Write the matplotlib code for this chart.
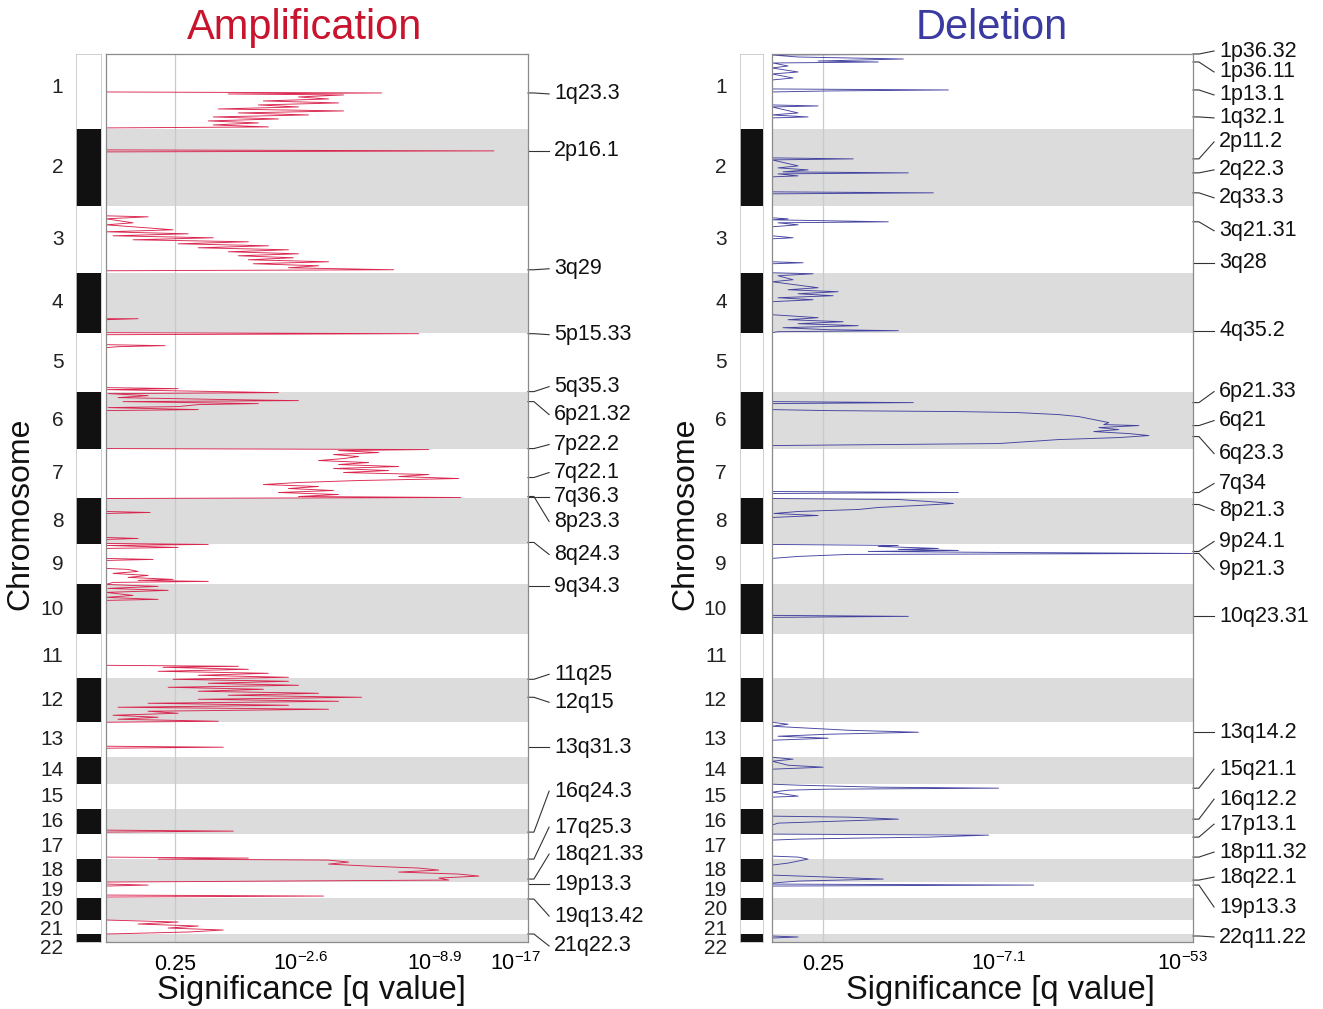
import matplotlib
matplotlib.use('Agg')
import matplotlib.pyplot as plt
import numpy as np

plt.rcParams['font.family'] = ['Liberation Sans', 'DejaVu Sans']
plt.rcParams['mathtext.fontset'] = 'custom'
plt.rcParams['mathtext.rm'] = 'Liberation Sans'
plt.rcParams['mathtext.it'] = 'Liberation Sans:italic'
plt.rcParams['mathtext.default'] = 'regular'

# chromosome extents along the genome axis (marker index units, as drawn)
chrom_size = [75, 77, 67, 60, 59, 57, 50, 46, 40, 50, 44,
              44, 35, 27, 25, 25, 25, 23, 16, 22, 14, 8]
chrom_names = [str(i) for i in range(1, 23)]

# amplification G-score profile (genome position, score)
amp_pos = [0, 38, 39, 40, 41, 43, 45, 47, 49, 51, 53, 55, 57, 59, 61, 63, 65, 67, 69, 71, 73, 74,
           96, 97, 98,
           162, 163, 165, 169, 171, 176, 178, 180, 182, 184, 186, 188, 190, 192, 194, 196, 198,
           200, 202, 204, 206, 208, 210, 212, 214, 216, 217,
           265, 265, 266,
           279, 280, 281, 291, 292, 293, 294, 334, 335, 336,
           339, 340, 342, 344, 346, 347, 348, 350, 351, 353, 354, 356, 357, 395,
           396, 397, 399, 401, 403, 405, 407, 409, 411, 413, 415, 417, 419, 421, 423, 425, 427,
           429, 431, 433, 435, 437, 439, 441, 443, 444, 445,
           458, 459, 460, 484, 485, 486,
           490, 491, 492, 494, 495, 505, 506, 507, 515, 516, 518, 520, 522, 524, 526, 527, 528, 529, 531,
           533, 535, 537, 539, 542, 544, 546, 547,
           612, 613, 614, 616, 618, 620, 622, 624,
           626, 628, 630, 632, 634, 636, 638, 640, 642, 644, 646, 648, 650, 652, 654, 656, 658,
           660, 662, 664, 666, 668, 669,
           693, 694, 695,
           777, 778, 779,
           804, 805, 806, 807, 809, 811, 813, 815, 817, 819, 821, 823, 825, 827, 829,
           831, 832, 833, 842, 843, 844,
           867, 869, 871, 873, 875, 877, 879, 881, 889]
amp_g = [2, 2, 277, 124, 239, 194, 224, 159, 234, 154, 194, 114, 239, 134, 204, 109, 174, 104, 154, 109, 164, 2,
         2, 389, 2,
         2, 44, 2, 29, 2, 69, 2, 84, 9, 109, 29, 144, 74, 164, 94, 184, 124,
         194, 134, 189, 144, 224, 149, 214, 184, 289, 2,
         2, 34, 2,
         2, 314, 2, 2, 61, 14, 2, 2, 74, 2,
         174, 4, 44, 14, 124, 194, 19, 154, 94, 74, 4, 94, 2, 2,
         324, 234, 274, 229, 254, 239, 214, 264, 234, 294, 229, 284, 239, 324, 294, 354, 254,
         194, 159, 214, 184, 229, 174, 234, 194, 356, 2,
         2, 46, 2, 2, 34, 2,
         2, 104, 2, 74, 2, 2, 49, 2, 2, 24, 34, 9, 44, 24, 69, 34, 104, 9, 2,
         54, 4, 64, 2, 29, 2, 54, 2,
         2, 134, 59, 144, 54, 164, 94, 184,
         69, 184, 104, 194, 64, 159, 94, 214, 124, 257, 94, 234, 44, 184, 14, 224, 44,
         74, 9, 54, 14, 114, 2,
         2, 119, 2,
         2, 129, 2,
         2, 144, 54, 224, 244, 224, 264, 314, 334, 294, 354, 374, 334, 344, 2,
         2, 44, 2, 2, 219, 2,
         2, 74, 34, 94, 64, 119, 84, 2, 2]

# deletion G-score profile
del_pos = [0, 1, 3, 5, 7, 8, 9, 12, 14, 18, 20, 24, 26, 35, 36, 37, 38, 51, 52, 53, 59, 61, 63, 64,
           104, 105, 106, 112, 114, 116, 118, 119, 120, 122, 123, 138, 139, 140,
           164, 165, 166, 168, 169, 171, 173, 182, 184, 185, 208, 209, 210,
           219, 220, 222, 226, 228, 234, 236, 238, 240, 242, 244, 246, 248, 261, 264, 266, 268,
           270, 272, 274, 276, 277, 278, 279,
           348, 349, 350, 356, 357, 358, 359, 361, 363, 365, 367, 369, 371, 372, 374, 376, 378,
           380, 382, 384, 386, 388, 390, 392,
           438, 439, 440,
           445, 446, 448, 450, 452, 454, 456, 458, 460, 462, 464,
           491, 492, 493, 495, 496, 497, 498, 499, 500, 501, 503, 505,
           562, 563, 564,
           669, 671, 673, 677, 679, 681, 683, 685, 687,
           704, 706, 708, 712, 714, 716,
           731, 732, 734, 735, 736, 737, 739, 743, 744,
           763, 764, 766, 768, 770, 772,
           781, 782, 783, 784, 785, 786, 787,
           803, 804, 806, 808, 810, 812, 822, 824, 826, 828, 830, 831, 832, 833,
           883, 884, 885, 889]
del_g = [213, 2, 28, 133, 48, 108, 3, 18, 2, 28, 2, 23, 2, 2, 178, 58, 2, 2, 48, 2, 28, 2, 38, 2,
         2, 83, 2, 28, 8, 38, 13, 138, 8, 28, 2, 2, 163, 2,
         2, 18, 2, 118, 8, 28, 2, 2, 23, 2, 2, 33, 2,
         2, 43, 8, 23, 2, 48, 18, 68, 28, 63, 8, 43, 2, 2, 48, 18, 73,
         28, 88, 13, 58, 128, 8, 2,
         2, 143, 2, 2, 58, 188, 248, 288, 308, 318, 328, 338, 333, 368, 328, 348, 323,
         358, 378, 348, 288, 258, 228, 2,
         2, 188, 2,
         2, 128, 158, 183, 148, 108, 88, 28, 4, 48, 2,
         2, 128, 108, 168, 128, 188, 98, 228, 421, 78, 28, 2,
         2, 138, 2,
         2, 18, 2, 78, 148, 58, 8, 58, 2,
         2, 23, 2, 18, 53, 2,
         2, 28, 108, 228, 58, 18, 2, 28, 2,
         2, 78, 128, 68, 8, 2,
         2, 218, 188, 158, 88, 28, 2,
         2, 28, 38, 28, 18, 2, 2, 58, 113, 28, 2, 2, 263, 2,
         2, 28, 2, 2]

# significance axis ticks (G-score position, q-value label)
amp_ticks = [71, 196, 330, 410]
amp_ticklabels = ['0.25', '10$^{-2.6}$', '10$^{-8.9}$', '10$^{-17}$']
del_ticks = [53, 228, 411]
del_ticklabels = ['0.25', '10$^{-7.1}$', '10$^{-53}$']

# peak cytobands: name, genome position of the peak, label position
amp_peaks = ['1q23.3', '2p16.1', '3q29', '5p15.33', '5q35.3', '6p21.32', '7p22.2', '7q22.1',
             '7q36.3', '8p23.3', '8q24.3', '9q34.3', '11q25', '12q15', '13q31.3', '16q24.3',
             '17q25.3', '18q21.33', '19p13.3', '19q13.42', '21q22.3']
amp_peak_pos = [39, 97, 216, 280, 338, 348, 395, 424, 443, 443, 489, 533, 626, 644, 694, 779,
                806, 826, 831, 846, 881]
amp_label_pos = [40, 97, 215, 281, 333, 361, 391, 419, 443, 468, 501, 533, 621, 649, 694, 738,
                 774, 801, 831, 863, 893]

del_peaks = ['1p36.32', '1p36.11', '1p13.1', '1q32.1', '2p11.2', '2q22.3', '2q33.3', '3q21.31',
             '3q28', '4q35.2', '6p21.33', '6q21', '6q23.3', '7q34', '8p21.3', '9p24.1', '9p21.3',
             '10q23.31', '13q14.2', '15q21.1', '16q12.2', '17p13.1', '18p11.32', '18q22.1',
             '19p13.3', '22q11.22']
del_peak_pos = [0, 8, 36, 63, 105, 119, 139, 168, 209, 277, 349, 372, 383, 439, 451, 498, 500,
                563, 679, 735, 766, 784, 804, 827, 832, 883]
del_label_pos = [-3, 18, 41, 64, 88, 116, 144, 177, 209, 277, 338, 367, 400, 430, 457, 488, 516,
                 563, 679, 716, 746, 771, 799, 824, 854, 884]

W, H = 1323, 1009
fig = plt.figure(figsize=(W / 100, H / 100), dpi=100)

bounds = np.concatenate([[0], np.cumsum(chrom_size)])
total = bounds[-1]
mids = (bounds[:-1] + bounds[1:]) / 2
# spread chromosome number labels so that small chromosomes don't collide
lab_y = [mids[0] - 4]
for m in mids[1:]:
    lab_y.append(max(m, lab_y[-1] + 19.5))


def panel(x_strip, w_strip, x_main, w_main, pos, g, color, ticks, ticklabels,
          peaks, peak_pos, label_pos, title, title_color, title_x, xlab_x, ylab_x, chrlab_dx):
    bottom = (H - 942) / H
    height = 888 / H
    ax = fig.add_axes([x_main / W, bottom, w_main / W, height])
    st = fig.add_axes([x_strip / W, bottom, w_strip / W, height])

    for i in range(len(chrom_size)):
        if i % 2 == 1:
            ax.axhspan(bounds[i], bounds[i + 1], color='#dcdcdc', lw=0, zorder=0)
            st.axhspan(bounds[i], bounds[i + 1], color='#111111', lw=0)
    ax.axvline(ticks[0], color='#c2cfc8', lw=0.9, zorder=1)
    ax.plot(g, pos, color=color, lw=0.65, alpha=0.95, zorder=2)

    # baseline score (2) sits on the left frame
    ax.set_xlim(2, w_main + 1)
    ax.set_ylim(total, 0)
    ax.set_xticks([])
    ax.set_yticks([])
    for s in ax.spines.values():
        s.set_color('#8a8a8a')
        s.set_linewidth(0.9)

    st.set_xlim(0, 1)
    st.set_ylim(total, 0)
    st.set_xticks([])
    st.set_yticks([])
    for s in st.spines.values():
        s.set_color('#c8c8c8')
        s.set_linewidth(0.6)

    # q-value tick labels, baseline aligned
    xt = ax.get_xaxis_transform()
    for t, lab in zip(ticks, ticklabels):
        ax.text(t, -28 / 888, lab, transform=xt, ha='center', va='baseline',
                fontsize=15.5, clip_on=False)

    # chromosome numbers
    yt = st.get_yaxis_transform()
    for name, y in zip(chrom_names, lab_y):
        st.text(chrlab_dx, y, name, transform=yt, ha='right', va='center',
                fontsize=15, color='#222222', clip_on=False)

    # peak labels with leader lines
    pt = ax.get_yaxis_transform()
    for name, p, lp in zip(peaks, peak_pos, label_pos):
        ax.plot([1.0, 1.014, 1.05], [p, p, lp], transform=pt, color='#333333',
                lw=0.8, clip_on=False)
        ax.text(1.062, lp, name, transform=pt, ha='left', va='center',
                fontsize=15.5, color='#111111', clip_on=False)

    fig.text(title_x / W, 1 - 28 / H, title, ha='center', va='center',
             fontsize=30, color=title_color)
    fig.text(xlab_x / W, 1 - 990 / H, 'Significance [q value]', ha='center',
             va='center', fontsize=23.5, color='#111111')
    fig.text(ylab_x / W, 1 - 514 / H, 'Chromosome', ha='center', va='center',
             rotation=90, fontsize=23, color='#111111')


panel(76, 25, 106, 422, amp_pos, amp_g, '#d81b46', amp_ticks, amp_ticklabels,
      amp_peaks, amp_peak_pos, amp_label_pos, 'Amplification', '#c8142e',
      305, 311, 20, -0.5)
panel(740, 23, 772, 421, del_pos, del_g, '#3b3a9c', del_ticks, del_ticklabels,
      del_peaks, del_peak_pos, del_label_pos, 'Deletion', '#3a3aa0',
      992, 1000, 685, -0.57)

fig.savefig('out.png', dpi=100)
